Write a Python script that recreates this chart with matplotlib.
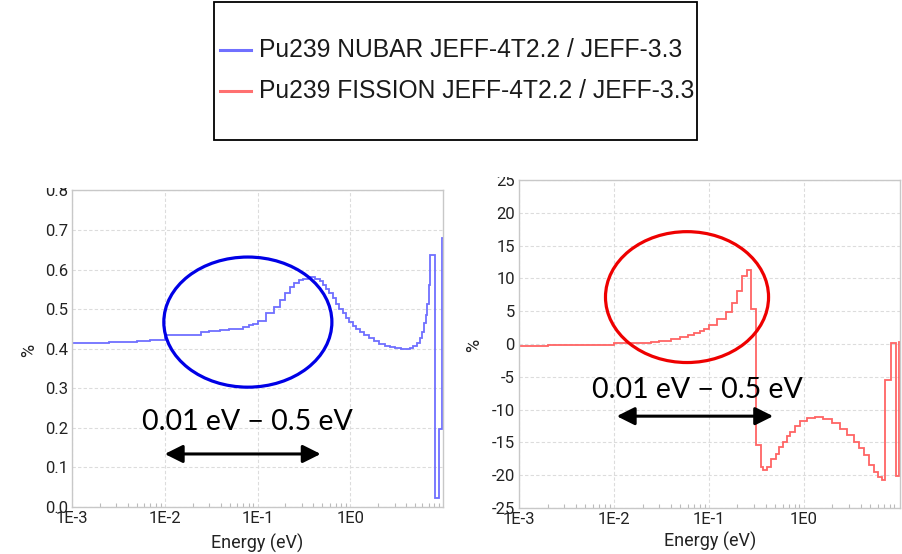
import numpy as np
import matplotlib.pyplot as plt
from matplotlib.patches import Ellipse, Rectangle
from matplotlib.ticker import FixedLocator, LogLocator, NullFormatter

# Pu239 NUBAR ratio JEFF-4T2.2 / JEFF-3.3 (%), stair edges in eV
nubar_edges = [1e-3, 1.6e-3, 2.5e-3, 3.5e-3, 5e-3, 7e-3, 1e-2, 0.0248, 0.030, 0.0396,
               0.0493, 0.0608, 0.0698, 0.0802, 0.089, 0.1, 0.123, 0.151, 0.174, 0.197,
               0.222, 0.249, 0.277, 0.31, 0.35, 0.42, 0.468, 0.506, 0.55, 0.597,
               0.645, 0.70, 0.76, 0.83, 0.90, 0.97, 1.06, 1.16, 1.26, 1.40,
               1.60, 1.80, 2.05, 2.35, 2.65, 3.0, 3.5, 4.0, 4.4, 4.75,
               5.2, 5.6, 6.0, 6.3, 6.6, 6.8, 7.0, 7.2, 8.15, 9.05, 9.85, 10.0]
nubar_vals = [0.414, 0.415, 0.416, 0.418, 0.420, 0.423, 0.434, 0.442, 0.444, 0.446,
              0.449, 0.451, 0.455, 0.460, 0.463, 0.470, 0.489, 0.506, 0.524, 0.541,
              0.555, 0.565, 0.573, 0.577, 0.580, 0.575, 0.570, 0.561, 0.550, 0.540,
              0.527, 0.514, 0.500, 0.489, 0.478, 0.468, 0.458, 0.450, 0.443, 0.434,
              0.426, 0.419, 0.413, 0.408, 0.404, 0.401, 0.398, 0.399, 0.401, 0.407,
              0.415, 0.426, 0.443, 0.464, 0.485, 0.514, 0.560, 0.638, 0.023, 0.197, 0.680]

# Pu239 FISSION ratio JEFF-4T2.2 / JEFF-3.3 (%)
fis_edges = [1e-3, 2e-3, 3.5e-3, 5.5e-3, 8e-3, 1e-2, 0.0248, 0.030, 0.0396, 0.0493,
             0.0608, 0.0698, 0.0802, 0.089, 0.1, 0.123, 0.151, 0.174, 0.197, 0.222,
             0.249, 0.277, 0.31, 0.35, 0.375, 0.407, 0.452, 0.507, 0.553, 0.609,
             0.662, 0.718, 0.81, 0.914, 1.08, 1.32, 1.61, 1.97, 2.41, 2.84,
             3.34, 3.77, 4.26, 4.81, 5.42, 5.98, 6.65, 7.2, 8.28, 9.41, 10.0, 10.3]
fis_vals = [-0.25, -0.22, -0.2, -0.17, -0.12, 0.1, 0.3, 0.5, 0.8, 1.07,
            1.37, 1.68, 2.03, 2.34, 2.84, 3.8, 4.93, 6.3, 8.13, 10.4,
            11.3, 5.28, -15.4, -18.7, -19.2, -18.8, -17.6, -16.7, -15.7, -14.9,
            -14.1, -13.4, -12.5, -11.8, -11.3, -11.2, -11.5, -12.1, -13.0, -13.9,
            -15.0, -15.9, -16.9, -18.4, -19.5, -20.3, -20.7, -5.5, 0.2, -20.1, 0.35]

xticks = [1e-3, 1e-2, 1e-1, 1.0]
xticklabels = ['1E-3', '1E-2', '1E-1', '1E0']
nubar_yticks = [0.0, 0.1, 0.2, 0.3, 0.4, 0.5, 0.6, 0.7, 0.8]
fis_yticks = [-25, -20, -15, -10, -5, 0, 5, 10, 15, 20, 25]

W, H = 903, 554
fig = plt.figure(figsize=(W / 100, H / 100), dpi=100)
plt.rcParams['font.family'] = 'Roboto'


def px_box(x0, y0, x1, y1):
    # pixel box (top-left origin) -> figure fractions
    return [x0 / W, 1 - y1 / H, (x1 - x0) / W, (y1 - y0) / H]


def style_axes(ax, yticks, yfmt):
    ax.set_xscale('log')
    ax.xaxis.set_major_locator(FixedLocator(xticks))
    ax.set_xticklabels(xticklabels)
    ax.xaxis.set_minor_locator(LogLocator(base=10, subs=np.arange(2, 10)))
    ax.xaxis.set_minor_formatter(NullFormatter())
    ax.set_yticks(yticks)
    ax.set_yticklabels([yfmt.format(v) for v in yticks])
    for s in ax.spines.values():
        s.set_color('#c8c8c8')
        s.set_linewidth(1.0)
    ax.tick_params(axis='both', which='major', length=0, labelsize=12,
                   labelcolor='#222222', pad=3)
    ax.tick_params(axis='x', which='minor', direction='in', length=3,
                   color='#bbbbbb', width=0.8)
    ax.grid(True, which='major', color='#dcdcdc', linestyle=(0, (3, 2)), linewidth=0.8)
    ax.set_axisbelow(True)
    ax.set_xlabel('Energy (eV)', fontsize=13, color='#222222')
    ax.set_ylabel('%', fontsize=13, color='#222222')


range_text = '0.01 eV \u2212 0.5 eV'

# left panel: NUBAR
ax1 = fig.add_axes(px_box(72, 190.4, 443, 507))
ax1.stairs(nubar_vals, nubar_edges, baseline=None, color='#6f6fff', lw=1.3)
ax1.set_xlim(1e-3, 10.0)
ax1.set_ylim(0, 0.8)
style_axes(ax1, nubar_yticks, '{:.1f}')
ax1.xaxis.set_label_coords(0.499, -0.085)
ax1.yaxis.set_label_coords(-0.092, 0.496)

ax1.add_patch(Ellipse((0.474, 0.584), 0.453, 0.411, transform=ax1.transAxes,
                      fill=False, edgecolor='#0000e6', lw=2.3, clip_on=False, zorder=5))
ax1.text(0.474, 0.27, range_text, transform=ax1.transAxes, ha='center',
         va='center', fontsize=20.5, family=['Lato', 'DejaVu Sans'], color='black', zorder=6)
ax1.annotate('', xy=(0.01, 0.134), xytext=(0.48, 0.134),
             arrowprops=dict(arrowstyle='<|-|>,head_length=0.6,head_width=0.3',
                             mutation_scale=18, color='black', lw=2.2,
                             shrinkA=0, shrinkB=0), zorder=6)

# right panel: FISSION
ax2 = fig.add_axes(px_box(519, 180, 900, 508))
ax2.stairs(fis_vals, fis_edges, baseline=None, color='#ff6464', lw=1.3)
ax2.set_xlim(1e-3, 10.3)
ax2.set_ylim(-25, 25)
style_axes(ax2, fis_yticks, '{:d}')
ax2.xaxis.set_label_coords(0.501, -0.073)
ax2.yaxis.set_label_coords(-0.095, 0.497)

ax2.add_patch(Ellipse((0.441, 0.643), 0.428, 0.399, transform=ax2.transAxes,
                      fill=False, edgecolor='#ee0000', lw=2.3, clip_on=False, zorder=5))
ax2.text(0.467, 0.36, range_text, transform=ax2.transAxes, ha='center',
         va='center', fontsize=20.5, family=['Lato', 'DejaVu Sans'], color='black', zorder=6)
ax2.annotate('', xy=(0.0107, -11.0), xytext=(0.475, -11.0),
             arrowprops=dict(arrowstyle='<|-|>,head_length=0.6,head_width=0.3',
                             mutation_scale=18, color='black', lw=2.2,
                             shrinkA=0, shrinkB=0), zorder=6)

# screenshot crop above the plots (cuts the top tick labels)
fig.patches.append(Rectangle((0, 1 - 188 / H), 460 / W, 40 / H, transform=fig.transFigure,
                             facecolor='white', edgecolor='none', zorder=10))
fig.patches.append(Rectangle((460 / W, 1 - 177 / H), 443 / W, 30 / H, transform=fig.transFigure,
                             facecolor='white', edgecolor='none', zorder=10))

# legend box drawn as in the source image
fig.patches.append(Rectangle((214 / W, 1 - 140 / H), (697 - 214) / W, 138 / H,
                             transform=fig.transFigure, facecolor='white',
                             edgecolor='black', lw=1.3, zorder=10))
legend_names = ['Pu239 NUBAR JEFF-4T2.2 / JEFF-3.3', 'Pu239 FISSION JEFF-4T2.2 / JEFF-3.3']
legend_colors = ['#7070ff', '#ff7070']
for i, (name, col) in enumerate(zip(legend_names, legend_colors)):
    yy = 1 - (50 + 41 * i) / H
    fig.add_artist(plt.Line2D([220 / W, 251 / W], [yy, yy], color=col, lw=2.2,
                              transform=fig.transFigure, zorder=11))
    fig.text(259 / W, yy, name, ha='left', va='center', fontsize=17.7,
             family='Liberation Sans', color='#1a1a1a', zorder=11)

fig.savefig('out.png', dpi=100)
